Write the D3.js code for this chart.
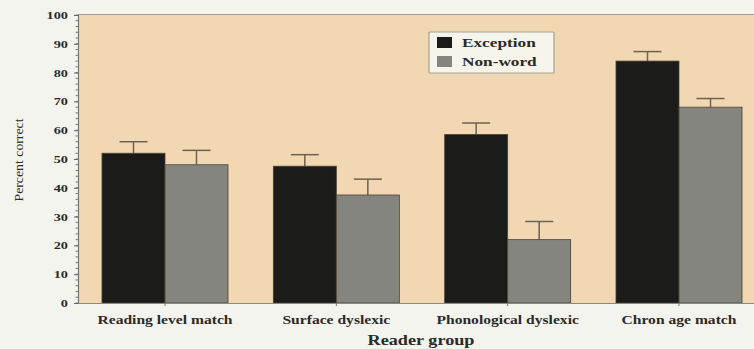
<!DOCTYPE html>
<html><head><meta charset="utf-8">
<script src="https://cdn.jsdelivr.net/npm/d3@7"></script>
<style>
html,body{margin:0;padding:0;background:#f4f4ef;}
svg{display:block;}
text{font-family:"Liberation Serif","DejaVu Serif",serif;fill:#2a2a28;}
</style></head>
<body>
<svg id="chart" width="754" height="349"></svg>
<script>
const categories = ["Reading level match","Surface dyslexic","Phonological dyslexic","Chron age match"];
const seriesNames = ["Exception","Non-word"];
const exceptionValues = [52, 47.5, 58.5, 84];
const exceptionErrors = [4, 4, 4, 3.3];
const nonwordValues = [48, 37.5, 22, 68];
const nonwordErrors = [5, 5.5, 6.3, 3];
const yTicks = [0,10,20,30,40,50,60,70,80,90,100];
const colors = {"Exception":"#1b1b19","Non-word":"#858580"};

(function(){
const svg = d3.select("#chart");
const W = 754;
const mLeft = 78, mTop = 15, mBottom = 303;
const sx = 1.3;

const x = d3.scaleBand().domain(categories).range([mLeft, 766]).paddingInner(0.2645).paddingOuter(0.14);
const xs = d3.scaleBand().domain(seriesNames).range([0, x.bandwidth()]).padding(0);
const y = d3.scaleLinear().domain([0,100]).range([mBottom, mTop]);

svg.append("rect").attr("x", mLeft).attr("y", mTop).attr("width", W-mLeft).attr("height", mBottom-mTop).attr("fill", "#f1d8b3");
svg.append("line").attr("x1", mLeft).attr("x2", W).attr("y1", mTop-0.5).attr("y2", mTop-0.5).attr("stroke", "#a09a90").attr("stroke-width", 1);

const data = categories.map((c,i)=>({cat:c, vals:[
  {s:"Exception", v:exceptionValues[i], e:exceptionErrors[i]},
  {s:"Non-word", v:nonwordValues[i], e:nonwordErrors[i]}]}));

const g = svg.selectAll("g.grp").data(data).join("g").attr("class","grp")
  .attr("transform", d=>`translate(${x(d.cat)},0)`);

g.selectAll("g.err").data(d=>d.vals).join("g").attr("class","err").each(function(d){
  const cx = xs(d.s) + xs.bandwidth()/2;
  const s = d3.select(this);
  s.append("line").attr("x1",cx).attr("x2",cx).attr("y1",y(d.v)).attr("y2",y(d.v+d.e)).attr("stroke","#6e6152").attr("stroke-width",1.5);
  s.append("line").attr("x1",cx-14).attr("x2",cx+14).attr("y1",y(d.v+d.e)).attr("y2",y(d.v+d.e)).attr("stroke","#6e6152").attr("stroke-width",1.5);
});

g.selectAll("rect.bar").data(d=>d.vals).join("rect").attr("class","bar")
  .attr("x", d=>xs(d.s)).attr("width", xs.bandwidth())
  .attr("y", d=>y(d.v)).attr("height", d=>y(0)-y(d.v))
  .attr("fill", d=>colors[d.s]).attr("stroke","#4a4236").attr("stroke-width",0.8);

const yAxisG = svg.append("g").attr("transform",`translate(${mLeft},0)`);
const minor = d3.range(0,101,2);
yAxisG.selectAll("line.minor").data(minor).join("line").attr("class","minor")
  .attr("x1",-2.5).attr("x2",0).attr("y1",d=>y(d)).attr("y2",d=>y(d)).attr("stroke","#777").attr("stroke-width",1);
const yAxis = d3.axisLeft(y).tickValues(yTicks).tickSize(4).tickPadding(6).tickFormat(d3.format("d"));
yAxisG.call(yAxis);
yAxisG.select(".domain").attr("stroke","#777").attr("stroke-width",1.2);
yAxisG.selectAll(".tick line").attr("stroke","#666");
yAxisG.selectAll(".tick text").each(function(){
  const t = d3.select(this);
  const xx = +t.attr("x");
  t.attr("x", xx/sx).attr("transform", `scale(${sx},1)`)
   .attr("font-family","Liberation Serif").attr("font-weight","bold").attr("font-size",11).attr("fill","#3a3a38");
});

const xAxisG = svg.append("g").attr("transform",`translate(0,${mBottom})`);
xAxisG.call(d3.axisBottom(x).tickSize(3).tickSizeOuter(0).tickFormat(""));
xAxisG.select(".domain").attr("stroke","#888").attr("stroke-width",1.2).attr("d",`M${mLeft},0.5H${W}`);
xAxisG.selectAll(".tick line").attr("stroke","#777");

svg.selectAll("text.xl").data(categories).join("text").attr("class","xl")
  .attr("transform", d=>`translate(${x(d)+x.bandwidth()/2},324) scale(${sx},1)`)
  .attr("text-anchor","middle").attr("font-weight","bold").attr("font-size",12).attr("fill","#3a3a38").text(d=>d);

svg.append("text").attr("transform",`translate(421,345) scale(${sx},1)`).attr("text-anchor","middle")
  .attr("font-weight","bold").attr("font-size",14).attr("fill","#3a3a38").text("Reader group");

svg.append("text").attr("transform","translate(23,160) rotate(-90) scale(1.15,1)").attr("text-anchor","middle")
  .attr("font-size",12).attr("fill","#3a3a38").text("Percent correct");

const lg = svg.append("g").attr("transform","translate(429,32)");
lg.append("rect").attr("width",125).attr("height",41).attr("fill","#f7f4ec").attr("stroke","#a8a090").attr("stroke-width",1.2).attr("rx",1);
const li = lg.selectAll("g.li").data(seriesNames).join("g").attr("class","li").attr("transform",(d,i)=>`translate(8,${5+i*19})`);
li.append("rect").attr("width",15).attr("height",11).attr("fill",d=>colors[d]);
li.append("text").attr("transform",`translate(25,10) scale(1.38,1)`).attr("font-weight","bold").attr("font-size",12.5).attr("fill","#2a2a28").text(d=>d);
})();
</script>
</body></html>
